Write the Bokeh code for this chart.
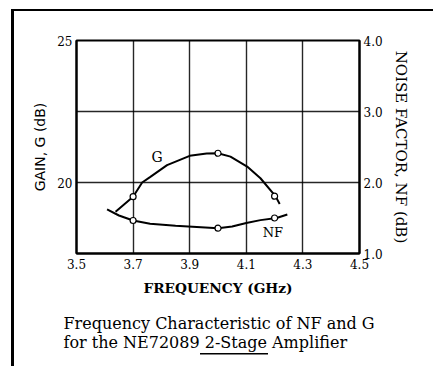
from bokeh.plotting import figure
from bokeh.models import Range1d, LinearAxis, FixedTicker, Title, PrintfTickFormatter
from bokeh.embed import file_html
from bokeh.resources import INLINE
from bokeh.core.properties import value

# ---- data ----
freq_ticks = [3.5, 3.7, 3.9, 4.1, 4.3, 4.5]
gain_ticks = [20, 25]
gain_grid = [20, 22.5]
nf_ticks = [1.0, 2.0, 3.0, 4.0]

g_freq = [3.638, 3.70, 3.732, 3.761, 3.82, 3.90, 3.96, 4.00, 4.044, 4.103, 4.15, 4.203, 4.218]
g_gain = [18.97, 19.50, 20.0, 20.2, 20.61, 20.94, 21.02, 21.03, 20.91, 20.56, 20.15, 19.52, 19.24]
g_pts_freq = [3.7, 4.0, 4.2]
g_pts_gain = [19.50, 21.03, 19.52]

nf_freq = [3.608, 3.65, 3.70, 3.76, 3.85, 3.94, 4.00, 4.05, 4.10, 4.15, 4.207, 4.245]
nf_val = [1.62, 1.535, 1.465, 1.42, 1.39, 1.37, 1.356, 1.38, 1.43, 1.47, 1.50, 1.55]
nf_pts_freq = [3.7, 4.0, 4.2]
nf_pts_val = [1.465, 1.356, 1.50]

x_label = "FREQUENCY (GHz)"
y_label = "GAIN, G (dB)"
y2_label = "NOISE FACTOR, NF (dB)"
caption1 = "Frequency Characteristic of NF and G"
caption2 = "for the NE72089 2-Stage Amplifier"

SERIF = "DejaVu Serif"

p = figure(width=433, height=366, x_range=Range1d(3.5, 4.5), y_range=Range1d(17.5, 25),
           output_backend="svg", toolbar_location=None,
           min_border_left=76, min_border_right=74, min_border_top=40, min_border_bottom=113)
p.extra_y_ranges = {"nf": Range1d(1.0, 4.0)}
p.background_fill_color = "white"
p.border_fill_color = None
p.outline_line_color = "black"
p.outline_line_width = 2
# page frame rules (top, left) and the underline of "2-Stage"
p.styles = {"background": (
    "linear-gradient(#000,#000) 11px 9px / 3px 357px no-repeat, "
    "linear-gradient(#000,#000) 12px 9px / 421px 2px no-repeat, "
    "linear-gradient(#000,#000) 200px 352.5px / 68px 1.5px no-repeat, #fff")}

# grid
p.xgrid.ticker = FixedTicker(ticks=freq_ticks)
p.ygrid.ticker = FixedTicker(ticks=gain_grid)
for g in (p.xgrid, p.ygrid):
    g.grid_line_color = "black"
    g.grid_line_width = 1.4
    g.grid_line_alpha = 0.85

def style_axis(ax):
    ax.axis_line_color = "black"
    ax.axis_line_width = 2
    ax.major_tick_in = 0
    ax.major_tick_out = 0
    ax.minor_tick_line_color = None
    ax.major_label_text_font = SERIF
    ax.major_label_text_font_size = "12px"
    ax.major_label_text_color = "black"
    ax.axis_label_text_font_style = "normal"
    ax.axis_label_text_color = "black"

# bottom axis
xa = p.xaxis[0]
style_axis(xa)
xa.ticker = FixedTicker(ticks=freq_ticks)
xa.formatter = PrintfTickFormatter(format="%.1f")
xa.major_label_standoff = 5
xa.axis_label = x_label
xa.axis_label_text_font = SERIF
xa.axis_label_text_font_style = "bold"
xa.axis_label_text_font_size = "13.7px"
xa.axis_label_standoff = 8

# left axis
ya = p.yaxis[0]
style_axis(ya)
ya.ticker = FixedTicker(ticks=gain_ticks)
ya.formatter = PrintfTickFormatter(format="%d")
ya.major_label_standoff = 4
ya.axis_label = y_label
ya.axis_label_text_font = "DejaVu Sans"
ya.axis_label_text_font_size = "14px"
ya.axis_label_standoff = 6

# right axis
ra = LinearAxis(y_range_name="nf")
style_axis(ra)
ra.ticker = FixedTicker(ticks=nf_ticks)
ra.formatter = PrintfTickFormatter(format="%.1f")
ra.major_label_standoff = 4
ra.axis_label = y2_label
ra.axis_label_text_font = SERIF
ra.axis_label_text_font_size = "15px"
ra.axis_label_standoff = 6
p.add_layout(ra, "right")

# curves
p.line(g_freq, g_gain, line_color="black", line_width=2)
p.line(nf_freq, nf_val, line_color="black", line_width=2, y_range_name="nf")
p.scatter(g_pts_freq, g_pts_gain, size=6, fill_color="white", line_color="black", line_width=1.2)
p.scatter(nf_pts_freq, nf_pts_val, size=6, fill_color="white", line_color="black", line_width=1.2,
          y_range_name="nf")

# curve labels
p.text(x=[3.785], y=[20.91], text=["G"], text_font=value(SERIF), text_font_size="14px",
       text_align="center", text_baseline="middle", text_color="black")
p.text(x=[4.194], y=[1.296], text=["NF"], text_font=value(SERIF), text_font_size="13px",
       text_align="center", text_baseline="middle", text_color="black", y_range_name="nf")

# caption (two lines below the chart)
p.add_layout(Title(text=caption1 + "\n" + caption2, align="left", offset=-13, standoff=27,
                   text_font=SERIF, text_font_size="16px", text_font_style="normal",
                   text_line_height=1.0, text_color="black"), "below")

open("out.html", "w").write(file_html(p, INLINE))
